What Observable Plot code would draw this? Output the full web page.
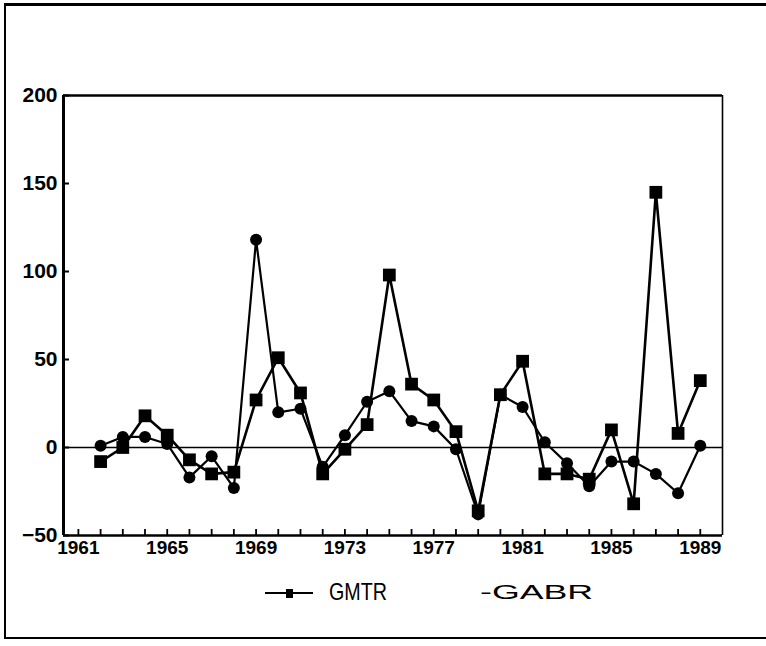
<!DOCTYPE html>
<html>
<head>
<meta charset="utf-8">
<script src="https://cdn.jsdelivr.net/npm/d3@7"></script>
<script src="https://cdn.jsdelivr.net/npm/@observablehq/plot@0.6"></script>
<style>
  html, body { margin: 0; padding: 0; background: #fff; }
  #wrap { position: relative; width: 766px; height: 646px; overflow: hidden; background: #fff; }
  #border { position: absolute; left: 4px; top: 3px; width: 762px; height: 636px;
            border-top: 3px solid #000; border-left: 2px solid #000; border-bottom: 2px solid #000;
            box-sizing: border-box; pointer-events: none; }
  #chart { position: absolute; left: 0; top: 0; }
  .leg { position: absolute; font-family: "Liberation Sans", Arial, sans-serif; color: #000; white-space: nowrap; }
  #legGMTR { left: 329px; top: 578px; font-size: 24px; transform: scaleX(0.82); transform-origin: left center; }
  #legGABR { left: 480px; top: 580px; font-size: 21px; transform: scaleX(1.7); transform-origin: left center; }
  #swatch { position: absolute; left: 265px; top: 587px; }
</style>
</head>
<body>
<div id="wrap">
  <div id="chart"></div>
  <svg id="swatch" width="50" height="12">
    <line x1="0" y1="6" x2="48" y2="6" stroke="#000" stroke-width="2"></line>
    <rect x="21" y="2" width="7" height="9" fill="#000"></rect>
  </svg>
  <div class="leg" id="legGMTR">GMTR</div>
  <div class="leg" id="legGABR">-GABR</div>
  <div id="border"></div>
</div>
<script>
const years = [1962,1963,1964,1965,1966,1967,1968,1969,1970,1971,1972,1973,1974,1975,
               1976,1977,1978,1979,1980,1981,1982,1983,1984,1985,1986,1987,1988,1989];
const gmtr = [-8, 0, 18, 7, -7, -15, -14, 27, 51, 31, -15, -1, 13, 98,
              36, 27, 9, -36, 30, 49, -15, -15, -18, 10, -32, 145, 8, 38];
const gabr = [1, 6, 6, 2, -17, -5, -23, 118, 20, 22, -11, 7, 26, 32,
              15, 12, -1, -38, 30, 23, 3, -9, -22, -8, -8, -15, -26, 1];
const xTickLabels = [1961, 1965, 1969, 1973, 1977, 1981, 1985, 1989];
const xMinorTicks = d3.range(1961, 1990);
const yTicks = [-50, 0, 50, 100, 150, 200];

const gmtrRows = years.map((year, i) => ({year, value: gmtr[i]}));
const gabrRows = years.map((year, i) => ({year, value: gabr[i]}));

const tickFont = {fontFamily: "'Liberation Sans', Arial, sans-serif", fontWeight: "bold"};

const chart = Plot.plot({
  width: 766,
  height: 560,
  marginTop: 95,
  marginBottom: 25,
  marginLeft: 63,
  marginRight: 44,
  x: {domain: [1960.33, 1990], label: null},
  y: {domain: [-50, 200], label: null},
  style: {background: "transparent", color: "#000", fontFamily: "'Liberation Sans', Arial, sans-serif"},
  marks: [
    Plot.ruleY([0], {stroke: "#000", strokeWidth: 1.6}),
    Plot.line(gabrRows, {x: "year", y: "value", stroke: "#000", strokeWidth: 2.2}),
    Plot.line(gmtrRows, {x: "year", y: "value", stroke: "#000", strokeWidth: 2.6}),
    Plot.dot(gabrRows, {x: "year", y: "value", r: 6, fill: "#000", stroke: "none"}),
    Plot.dot(gmtrRows, {x: "year", y: "value", symbol: "square", r: 7.2, fill: "#000", stroke: "none"}),
    Plot.axisY({ticks: yTicks, tickSize: -6, tickFormat: () => "", label: null, strokeWidth: 2}),
    Plot.axisY({ticks: yTicks, tickSize: 0, tickPadding: 6, label: null, fontSize: 21, ...tickFont}),
    Plot.axisX({ticks: xMinorTicks, tickSize: -6, tickFormat: () => "", label: null, strokeWidth: 1.8}),
    Plot.axisX({ticks: xTickLabels, tickSize: 0, tickPadding: 5, label: null, tickFormat: d => String(d), fontSize: 19, ...tickFont}),
    Plot.ruleX([1960.33], {stroke: "#000", strokeWidth: 3}),
    Plot.ruleX([1990], {stroke: "#000", strokeWidth: 1.6}),
    Plot.ruleY([-50], {stroke: "#000", strokeWidth: 2.6}),
    Plot.ruleY([200], {stroke: "#000", strokeWidth: 2.6})
  ]
});
document.getElementById("chart").appendChild(chart);
</script>
</body>
</html>
